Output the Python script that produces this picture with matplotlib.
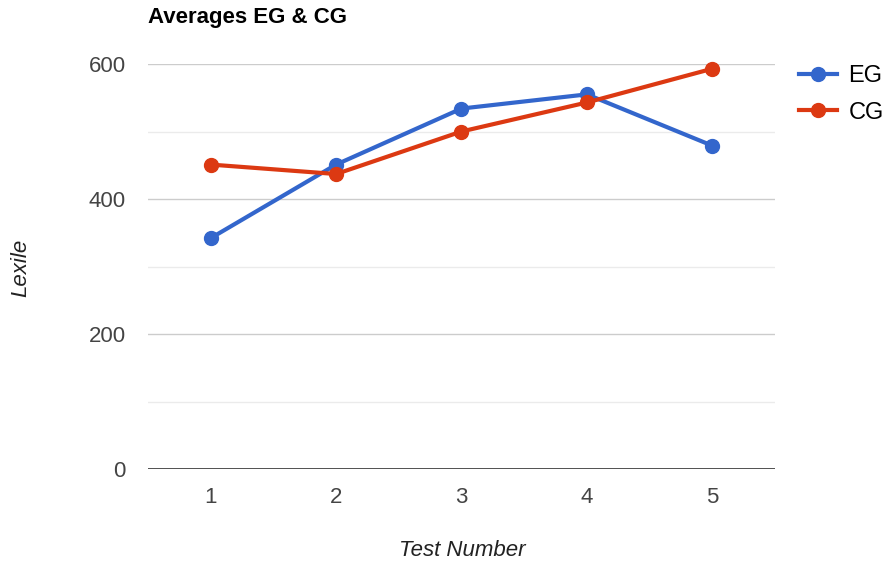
import matplotlib
matplotlib.use('Agg')
import matplotlib.pyplot as plt

plt.rcParams['font.family'] = ['Liberation Sans', 'DejaVu Sans']

tests = [1, 2, 3, 4, 5]
eg = [342, 451, 534, 555, 479]
cg = [451, 437, 500, 543, 593]

W, H = 887, 568
fig = plt.figure(figsize=(W / 100, H / 100), dpi=100)
ax = fig.add_axes([148 / W, 1 - 469 / H, (775 - 148) / W, (469 - 64) / H])

# major and minor grid like the google chart
for v in [100, 300, 500]:
	ax.axhline(v, color='#ebebeb', lw=1, zorder=0)
for v in [200, 400, 600]:
	ax.axhline(v, color='#cccccc', lw=1, zorder=0)
ax.axhline(0, color='#333333', lw=1.2, zorder=1)

ax.plot(tests, eg, color='#3366cc', lw=3, marker='o', ms=10, label='EG', zorder=3, clip_on=False)
ax.plot(tests, cg, color='#dc3912', lw=3, marker='o', ms=10, label='CG', zorder=3, clip_on=False)

ax.set_xlim(0.5, 5.5)
ax.set_ylim(0, 600)
ax.set_xticks(tests)
ax.set_yticks([0, 200, 400, 600])
ax.tick_params(length=0, labelsize=16, labelcolor='#444444')
ax.tick_params(axis='x', pad=13)
ax.tick_params(axis='y', pad=16)
for s in ax.spines.values():
	s.set_visible(False)

fig.text(462 / W, 1 - 550 / H, 'Test Number', style='italic', fontsize=16, color='#222222',
	ha='center', va='center')
fig.text(21 / W, 1 - 268 / H, 'Lexile', style='italic', fontsize=16, color='#222222',
	ha='center', va='center', rotation=90)
fig.text(148 / W, 1 - 18 / H, 'Averages EG & CG', fontsize=16, fontweight='bold', va='center', ha='left')

fig.legend(loc='upper left', bbox_to_anchor=(799 / W, 1 - 65 / H), frameon=False, fontsize=17,
	handlelength=1.6, labelspacing=0.62, handletextpad=0.5, borderpad=0, borderaxespad=0)

fig.savefig('out.png', dpi=100)
